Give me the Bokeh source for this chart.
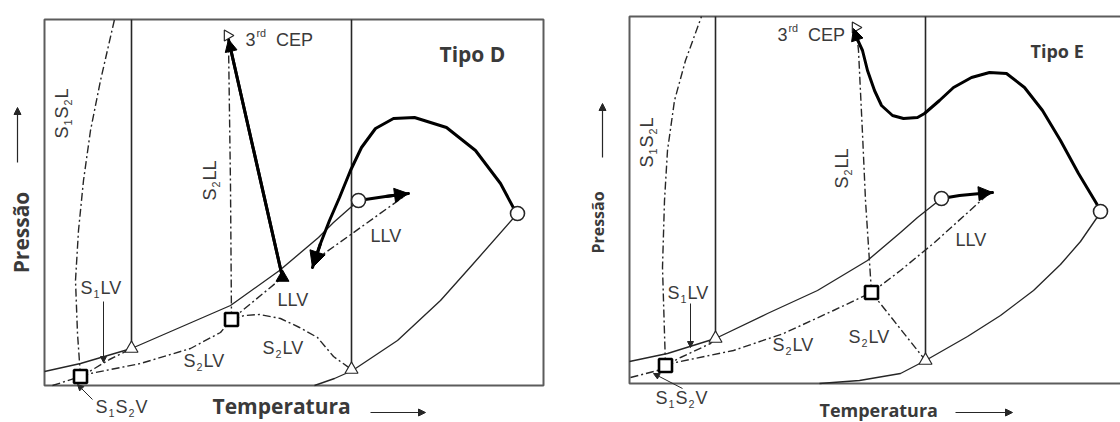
import math
from bokeh.plotting import figure
from bokeh.layouts import row
from bokeh.models import Range1d, ColumnDataSource, Arrow, NormalHead
from bokeh.core.properties import value, field
from bokeh.embed import file_html
from bokeh.resources import INLINE

# ------------------------------------------------------------------
# Tipo D  (schematic temperature / pressure units)
# ------------------------------------------------------------------
d_melt1_T = [87, 87]
d_melt1_P = [37, 366]
d_melt2_T = [307, 307]
d_melt2_P = [16, 366]
d_lv1_T = [0, 36, 87, 186, 235, 274, 289, 314]
d_lv1_P = [14, 22, 37, 80, 115, 148, 163, 185]
d_lv2_T = [270, 290, 308, 353, 396, 429, 473]
d_lv2_P = [0, 7, 15, 45, 85, 122, 172]
d_crit_T = [472, 456, 431, 402, 370, 349, 331, 317, 306, 295, 285, 276, 268]
d_crit_P = [172, 202, 235, 258, 268, 267, 257, 238, 215, 188, 165, 142, 118]
d_ucep_T = [314, 341, 364]
d_ucep_P = [185, 189, 192]
d_cep3_T = [238, 184]
d_cep3_P = [108, 346]
d_s2ll_T = [187, 186, 184]
d_s2ll_P = [66, 200, 343]
d_llv_lo_T = [187, 238]
d_llv_lo_P = [66, 108]
d_llv_hi_T = [270, 358]
d_llv_hi_P = [125, 188]
d_s2lv_a_T = [36, 46, 96, 146, 176, 187]
d_s2lv_a_P = [9, 12, 22, 37, 53, 66]
d_s2lv_b_T = [187, 200, 215, 236, 255, 273, 289, 307]
d_s2lv_b_P = [66, 70, 71, 67, 58, 48, 29, 16]
d_s1lv_T = [36, 50, 65, 87]
d_s1lv_P = [9, 17, 26, 37]
d_s1s2v_T = [8, 36]
d_s1s2v_P = [0, 9]
d_s1s2l_T = [36, 33, 31, 34, 39, 46, 56, 70]
d_s1s2l_P = [9, 52, 105, 155, 205, 255, 305, 366]
d_tri_T = [87, 307]
d_tri_P = [37, 16]
d_circ_T = [314, 473]
d_circ_P = [185, 172]
d_sq_T = [36, 187]
d_sq_P = [9, 66]
d_lcep_T = [238]
d_lcep_P = [108]
d_cep3m_T = [183]
d_cep3m_P = [350]

# ------------------------------------------------------------------
# Tipo E
# ------------------------------------------------------------------
e_melt1_T = [86, 86]
e_melt1_P = [45, 367]
e_melt2_T = [296, 296]
e_melt2_P = [23, 367]
e_lv1_T = [0, 38, 86, 138, 188, 238, 271, 288, 312]
e_lv1_P = [22, 30, 45, 70, 93, 123, 151, 166, 185]
e_lv2_T = [190, 230, 271, 296, 338, 371, 404, 431, 451, 471]
e_lv2_P = [0, 3, 10, 23, 47, 68, 93, 119, 142, 171]
e_crit_T = [471, 467, 449, 431, 413, 395, 377, 360, 342, 324, 310, 295, 288,
            274, 263, 252, 245, 238, 233, 227, 224]
e_crit_P = [172, 180, 210, 243, 273, 296, 310, 311, 306, 296, 283, 270, 266,
            265, 268, 278, 293, 313, 333, 346, 355]
e_ucep_T = [312, 330, 351, 363]
e_ucep_P = [185, 188, 190, 191]
e_s2ll_T = [242, 236, 233, 229, 227]
e_s2ll_P = [91, 183, 250, 333, 352]
e_llv_T = [242, 271, 305, 356]
e_llv_P = [91, 113, 141, 187]
e_s2lv_a_T = [36, 46, 104, 154, 204, 242]
e_s2lv_a_P = [18, 21, 33, 50, 73, 91]
e_s2lv_b_T = [242, 296]
e_s2lv_b_P = [91, 23]
e_s1lv_T = [36, 51, 81, 86]
e_s1lv_P = [18, 26, 40, 45]
e_s1s2v_T = [1, 28, 36]
e_s1s2v_P = [6, 13, 18]
e_s1s2l_T = [36, 35, 33, 35, 38, 45, 56, 72]
e_s1s2l_P = [18, 50, 116, 183, 233, 283, 323, 367]
e_tri_T = [86, 296]
e_tri_P = [45, 23]
e_circ_T = [312, 471]
e_circ_P = [185, 172]
e_sq_T = [36, 242]
e_sq_P = [18, 91]
e_cep3m_T = [226]
e_cep3m_P = [356]

INK = "#262626"
TEXT = "#3a3a3a"
DASHDOT = "8 3 2 3"
BASE_FIX = 0.43   # lift of the alphabetic baseline in the svg text box, per px of font size

# advance widths (em) of Liberation Sans, used to lay out sub/superscripts
ADV = {"S": 0.667, "L": 0.556, "V": 0.667, "C": 0.722, "E": 0.667, "P": 0.667,
       "1": 0.556, "2": 0.556, "3": 0.556, "r": 0.333, "d": 0.556, " ": 0.278}


def label_rows(runs, t0, p0, fs, deg):
    a = math.radians(deg)
    ca, sa = math.cos(a), math.sin(a)
    out = []
    s = 0.0
    for txt, kind, gap in runs:
        s += gap
        size = fs * (0.6 if kind else 1.0)
        up = BASE_FIX * fs + (-0.32 * fs if kind < 0 else (0.38 * fs if kind > 0 else 0.0))
        out.append((t0 + s * ca - up * sa, p0 + s * sa + up * ca, txt, f"{size:.1f}px", a))
        s += sum(ADV.get(c, 0.6) for c in txt) * size
    return out


def add_labels(p, labels):
    rows = [r for lab in labels for r in label_rows(*lab)]
    src = ColumnDataSource(dict(x=[r[0] for r in rows], y=[r[1] for r in rows],
                                text=[r[2] for r in rows], size=[r[3] for r in rows],
                                angle=[r[4] for r in rows]))
    p.text(x="x", y="y", text="text", angle="angle", source=src,
           text_font=value("Liberation Sans"), text_font_size=field("size"),
           text_color=TEXT, text_align="left", text_baseline="alphabetic")


def bold(p, t, pr, txt, size):
    p.text(x=[t], y=[pr + BASE_FIX * size], text=[txt], text_font=value("Open Sans"),
           text_font_style="bold", text_font_size=f"{size}px", text_color=TEXT,
           text_align="left", text_baseline="alphabetic")


def bold_vertical(p, t, pr, txt, size):
    p.text(x=[t], y=[pr], text=[txt], angle=math.pi / 2, text_font=value("Open Sans"),
           text_font_style="bold", text_font_size=f"{size}px", text_color=TEXT,
           text_align="center", text_baseline="middle")


def head(p, ts, ps, size, lw, color=INK):
    p.add_layout(Arrow(end=NormalHead(size=size, fill_color=color, line_color=color, line_width=1),
                       x_start=ts[-2], y_start=ps[-2], x_end=ts[-1], y_end=ps[-1],
                       line_color=color, line_width=lw))


def new_panel(t_min, p_min, box_t, box_p):
    p = figure(width=560, height=422, x_range=Range1d(t_min, t_min + 560),
               y_range=Range1d(p_min, p_min + 422), x_axis_type=None, y_axis_type=None,
               output_backend="svg", toolbar_location=None, min_border=0)
    p.outline_line_color = None
    p.background_fill_color = "white"
    p.border_fill_color = "white"
    p.quad(left=[0], right=[box_t], bottom=[0], top=[box_p], fill_color=None,
           line_color="#5c5c5c", line_width=2)
    return p


def thin(p, t, pr, dash="solid", lw=1.35):
    p.line(t, pr, line_color=INK, line_width=lw, line_dash=dash, line_join="round")


def thick(p, t, pr):
    p.line(t, pr, line_color="black", line_width=3, line_join="round", line_cap="round")


SS_L = [("S", 0, 0), ("1", -1, 1), ("S", 0, 1), ("2", -1, 1), ("L", 0, 1)]
SS_V = [("S", 0, 0), ("1", -1, 1), ("S", 0, 1), ("2", -1, 1), ("V", 0, 1)]
S2LL = [("S", 0, 0), ("2", -1, 1), ("LL", 0, 1)]
S1LV = [("S", 0, 0), ("1", -1, 1), ("LV", 0, 1)]
S2LV = [("S", 0, 0), ("2", -1, 1), ("LV", 0, 1)]
CEP3 = [("3", 0, 0), ("rd", 1, 1), ("CEP", 0, 10)]
LLV = [("LLV", 0, 0)]

# ------------------------------ Tipo D ------------------------------
pd = new_panel(-44, -37, 499, 366)
thin(pd, d_melt1_T, d_melt1_P, lw=1.6)
thin(pd, d_melt2_T, d_melt2_P, lw=1.6)
thin(pd, d_lv1_T, d_lv1_P)
thin(pd, d_lv2_T, d_lv2_P)
for t, pr in [(d_s2ll_T, d_s2ll_P), (d_llv_lo_T, d_llv_lo_P), (d_llv_hi_T, d_llv_hi_P),
              (d_s2lv_a_T, d_s2lv_a_P), (d_s2lv_b_T, d_s2lv_b_P), (d_s1lv_T, d_s1lv_P),
              (d_s1s2v_T, d_s1s2v_P), (d_s1s2l_T, d_s1s2l_P)]:
    thin(pd, t, pr, dash=DASHDOT, lw=1.4)
thick(pd, d_crit_T, d_crit_P)
thick(pd, d_ucep_T, d_ucep_P)
thick(pd, d_cep3_T, d_cep3_P)
head(pd, d_crit_T, d_crit_P, 16, 3, "black")
head(pd, d_ucep_T, d_ucep_P, 14, 3, "black")
head(pd, d_cep3_T, d_cep3_P, 12, 3, "black")
pd.scatter(d_tri_T, d_tri_P, marker="triangle", size=13, fill_color="white", line_color=INK, line_width=1.2)
pd.scatter(d_cep3m_T, d_cep3m_P, marker="triangle", size=11, angle=-math.pi / 2,
           fill_color="white", line_color=INK, line_width=1.2)
pd.scatter(d_circ_T, d_circ_P, marker="circle", size=14, fill_color="white", line_color=INK, line_width=1.6)
pd.scatter(d_sq_T, d_sq_P, marker="square", size=13, fill_color="white", line_color="black", line_width=2.6)
pd.scatter(d_lcep_T, d_lcep_P, marker="triangle", size=13, fill_color="black", line_color="black")
head(pd, [59, 59], [84, 23], 6, 1)
head(pd, [48, 33], [-14, 1], 6, 1)
head(pd, [326, 381], [-27, -27], 7, 1.2)
head(pd, [-27, -27], [223, 278], 7, 1.2)
add_labels(pd, [
    (SS_L, 25, 247, 18, 90),
    (S2LL, 173, 185, 18, 90),
    (CEP3, 201, 338, 18, 0),
    (S1LV, 36, 90, 18, 0),
    (S2LV, 139, 17, 18, 0),
    (S2LV, 218, 30, 18, 0),
    (LLV, 233, 78, 18, 0),
    (LLV, 326, 142, 18, 0),
    (SS_V, 51, -29, 18, 0),
])
bold(pd, 395, 322, "Tipo D", 21)
bold(pd, 168, -30, "Temperatura", 21)
bold_vertical(pd, -24, 153, "Pressão", 21)

# ------------------------------ Tipo E ------------------------------
pe = new_panel(-69, -39, 500, 367)
thin(pe, e_melt1_T, e_melt1_P, lw=1.6)
thin(pe, e_melt2_T, e_melt2_P, lw=1.6)
thin(pe, e_lv1_T, e_lv1_P)
thin(pe, e_lv2_T, e_lv2_P)
for t, pr in [(e_s2ll_T, e_s2ll_P), (e_llv_T, e_llv_P), (e_s2lv_a_T, e_s2lv_a_P),
              (e_s2lv_b_T, e_s2lv_b_P), (e_s1lv_T, e_s1lv_P), (e_s1s2v_T, e_s1s2v_P),
              (e_s1s2l_T, e_s1s2l_P)]:
    thin(pe, t, pr, dash=DASHDOT, lw=1.4)
thick(pe, e_crit_T, e_crit_P)
thick(pe, e_ucep_T, e_ucep_P)
head(pe, e_crit_T, e_crit_P, 12, 3, "black")
head(pe, e_ucep_T, e_ucep_P, 14, 3, "black")
pe.scatter(e_tri_T, e_tri_P, marker="triangle", size=13, fill_color="white", line_color=INK, line_width=1.2)
pe.scatter(e_cep3m_T, e_cep3m_P, marker="triangle", size=11, angle=-math.pi / 2,
           fill_color="white", line_color=INK, line_width=1.2)
pe.scatter(e_circ_T, e_circ_P, marker="circle", size=14, fill_color="white", line_color=INK, line_width=1.6)
pe.scatter(e_sq_T, e_sq_P, marker="square", size=13, fill_color="white", line_color="black", line_width=2.6)
head(pe, [61, 61], [80, 36], 6, 1)
head(pe, [53, 24], [-5, 10], 6, 1)
head(pe, [326, 383], [-29, -29], 7, 1.2)
head(pe, [-27, -27], [226, 280], 7, 1.2)
add_labels(pe, [
    (SS_L, 25, 216, 18, 90),
    (S2LL, 220, 195, 18, 90),
    (CEP3, 148, 341, 18, 0),
    (S1LV, 38, 83, 18, 0),
    (S2LV, 143, 31, 18, 0),
    (S2LV, 219, 39, 18, 0),
    (LLV, 326, 136, 18, 0),
    (SS_V, 26, -22, 18, 0),
])
bold(pe, 401, 325, "Tipo E", 18)
bold(pe, 190, -34, "Temperatura", 18)
bold_vertical(pe, -32, 161, "Pressão", 16)

layout = row(pd, pe)
open("out.html", "w").write(file_html(layout, INLINE))
